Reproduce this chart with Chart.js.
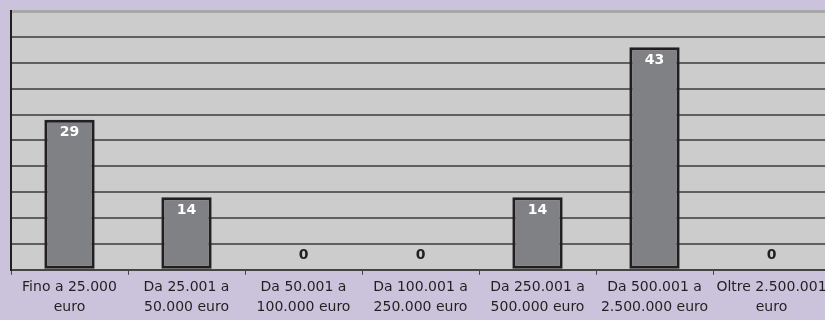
<!DOCTYPE html>
<html>
<head>
<meta charset="utf-8">
<script src="https://cdn.jsdelivr.net/npm/chart.js@4"></script>
<style>
html,body{margin:0;padding:0;background:#cbc3db;overflow:hidden;}
#wrap{width:830px;height:320px;position:relative;}
</style>
</head>
<body>
<div id="wrap"><canvas id="c" width="830" height="320"></canvas></div>
<script>
const categories = [
  ["Fino a 25.000", "euro"],
  ["Da 25.001 a", "50.000 euro"],
  ["Da 50.001 a", "100.000 euro"],
  ["Da 100.001 a", "250.000 euro"],
  ["Da 250.001 a", "500.000 euro"],
  ["Da 500.001 a", "2.500.000 euro"],
  ["Oltre 2.500.001", "euro"]
];
const values = [29, 14, 0, 0, 14, 43, 0];
const yMax = 50;
const yStep = 5;

const FONT = "'DejaVu Sans', sans-serif";

const bgPlugin = {
  id: 'plotBg',
  beforeDraw(chart) {
    const {ctx, chartArea: a} = chart;
    ctx.save();
    ctx.fillStyle = '#cccccc';
    ctx.fillRect(a.left, a.top, a.right - a.left, a.bottom - a.top);
    ctx.restore();
  }
};

const labelPlugin = {
  id: 'barLabels',
  afterDatasetsDraw(chart) {
    const {ctx} = chart;
    const meta = chart.getDatasetMeta(0);
    ctx.save();
    ctx.font = "bold 14px " + FONT;
    ctx.textAlign = 'center';
    ctx.textBaseline = 'middle';
    meta.data.forEach((bar, i) => {
      const v = values[i];
      if (v > 0) {
        ctx.fillStyle = '#ffffff';
        ctx.fillText(String(v), bar.x, bar.y + 13);
      } else {
        ctx.fillStyle = '#231f20';
        ctx.fillText(String(v), bar.x, bar.base - 14);
      }
    });
    ctx.restore();
  }
};

new Chart(document.getElementById('c'), {
  type: 'bar',
  data: {
    labels: categories,
    datasets: [{
      data: values,
      backgroundColor: '#808184',
      borderColor: '#231f20',
      borderWidth: 3,
      borderSkipped: false,
      categoryPercentage: 1,
      barPercentage: 0.43
    }]
  },
  options: {
    responsive: false,
    animation: false,
    devicePixelRatio: 1,
    layout: {padding: {left: 11, top: 11, right: 0, bottom: 0}},
    plugins: {legend: {display: false}, tooltip: {enabled: false}},
    scales: {
      x: {
        grid: {offset: true, drawOnChartArea: false, drawTicks: true, tickLength: 5, color: '#444', lineWidth: 1},
        border: {display: true, color: '#444', width: 2},
        ticks: {color: '#231f20', font: {family: FONT, size: 14, lineHeight: 1.4}, padding: 3, maxRotation: 0, autoSkip: false}
      },
      y: {
        min: 0, max: yMax,
        ticks: {display: false, stepSize: yStep},
        grid: {
          color: (c) => c.tick && c.tick.value === yMax ? '#a8a8a8' : '#5f5f5f',
          lineWidth: (c) => c.tick && c.tick.value === yMax ? 3 : 2,
          drawTicks: false
        },
        border: {display: true, color: '#231f20', width: 2}
      }
    }
  },
  plugins: [bgPlugin, labelPlugin]
});
</script>
</body>
</html>
